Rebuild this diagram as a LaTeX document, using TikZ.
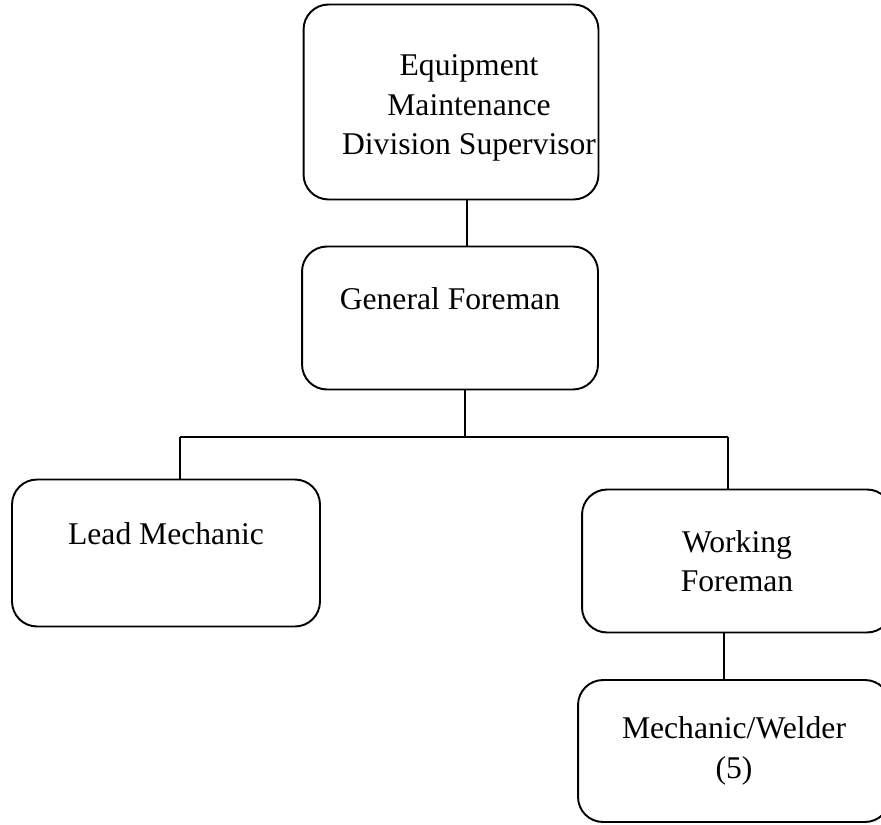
\documentclass[tikz,border=0pt]{standalone}
\usepackage{fontspec}
\setmainfont{Liberation Serif}
\begin{document}
\begin{tikzpicture}[x=0.02cm,y=-0.02cm,
  box/.style={draw,line width=1.1pt,rounded corners=0.5cm,align=center,
    font=\fontsize{18}{22.5}\selectfont},
  boxtext/.style={align=center,font=\fontsize{18}{22.7}\selectfont},
  link/.style={draw,line width=1.1pt}]
\useasboundingbox (0,0) rectangle (881,824);
\clip (0,0) rectangle (881,824);

\coordinate (colA) at (467,0);
\coordinate (colB) at (465,0);
\coordinate (colC) at (724,0);
\coordinate (bus) at (465,437);
\coordinate (busL) at (180,437);
\coordinate (busR) at (728,437);

\node[box,minimum width=5.9cm,minimum height=3.9cm] (sup) at (451,102) {};
\node[boxtext] (supT) at (469,108) {Equipment\\Maintenance\\Division Supervisor};
\node[box,minimum width=5.92cm,minimum height=2.86cm] (gen) at (450,318) {General Foreman\\ \mbox{}};
\node[box,minimum width=6.16cm,minimum height=2.94cm] (lead) at (166,553) {Lead Mechanic\\ \mbox{}};
\node[box,minimum width=6.2cm,minimum height=2.86cm] (work) at (737,561) {Working\\Foreman};
\node[box,minimum width=6.24cm,minimum height=2.84cm] (weld) at (734,751) {Mechanic/Welder\\(5)};

\draw[link] (sup.south -| colA) -- (gen.north -| colA);
\draw[link] (gen.south -| colB) -- (bus);
\draw[link] (busL) -- (busR);
\draw[link] (busL) -- (busL |- lead.north);
\draw[link] (busR) -- (busR |- work.north);
\draw[link] (work.south -| colC) -- (weld.north -| colC);
\end{tikzpicture}
\end{document}
